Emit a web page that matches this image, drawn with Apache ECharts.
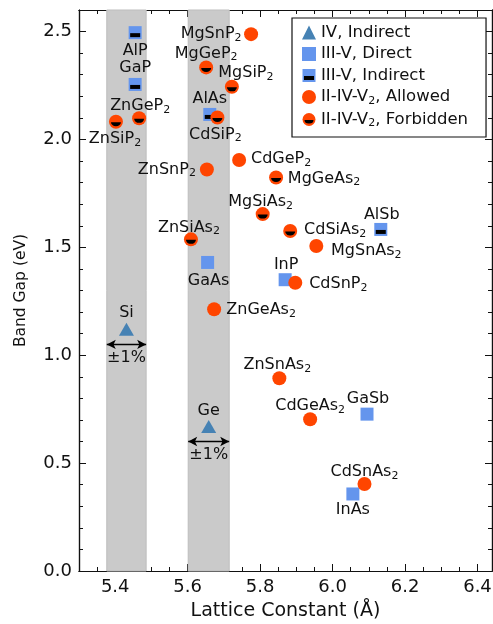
<!DOCTYPE html>
<html><head><meta charset="utf-8">
<script src="https://cdn.jsdelivr.net/npm/echarts@6/dist/echarts.min.js"></script>
<style>html,body{margin:0;padding:0;background:#fff}#c{width:493px;height:624px}</style>
</head><body><div id="c"></div>
<script>
// ---- data ----
const ivNames = ['Si', 'Ge'];
const ivX = [5.431, 5.658];
const ivY = [1.12, 0.67];

const directNames = ['GaAs', 'InP', 'GaSb', 'InAs'];
const directX = [5.655, 5.869, 6.095, 6.056];
const directY = [1.43, 1.35, 0.727, 0.357];

const indirectNames = ['AlP', 'GaP', 'AlAs', 'AlSb'];
const indirectX = [5.455, 5.455, 5.661, 6.133];
const indirectY = [2.495, 2.255, 2.116, 1.583];

const allowedNames = ['MgSnP2', 'ZnSnP2', 'CdGeP2', 'MgSnAs2', 'CdSnP2', 'ZnGeAs2', 'ZnSnAs2', 'CdGeAs2', 'CdSnAs2'];
const allowedX = [5.775, 5.653, 5.742, 5.955, 5.897, 5.673, 5.853, 5.938, 6.088];
const allowedY = [2.488, 1.861, 1.905, 1.506, 1.336, 1.213, 0.893, 0.703, 0.403];

const forbiddenNames = ['MgGeP2', 'MgSiP2', 'ZnGeP2', 'ZnSiP2', 'CdSiP2', 'MgGeAs2', 'MgSiAs2', 'CdSiAs2', 'ZnSiAs2'];
const forbiddenX = [5.651, 5.722, 5.466, 5.402, 5.682, 5.844, 5.807, 5.883, 5.609];
const forbiddenY = [2.334, 2.244, 2.098, 2.082, 2.102, 1.824, 1.654, 1.576, 1.537];

const seriesNames = ['IV, Indirect', 'III-V, Direct', 'III-V, Indirect', 'II-IV-V2, Allowed', 'II-IV-V2, Forbidden'];

const xTicks = [5.4, 5.6, 5.8, 6.0, 6.2, 6.4];
const xMinorTicks = [5.35, 5.45, 5.5, 5.55, 5.65, 5.7, 5.75, 5.85, 5.9, 5.95, 6.05, 6.1, 6.15, 6.25, 6.3, 6.35];
const yTicks = [0, 0.5, 1.0, 1.5, 2.0, 2.5];
const yMinorTicks = [0.1, 0.2, 0.3, 0.4, 0.6, 0.7, 0.8, 0.9, 1.1, 1.2, 1.3, 1.4, 1.6, 1.7, 1.8, 1.9, 2.1, 2.2, 2.3, 2.4];

const bandFraction = 0.01;         // ±1% around Si and Ge lattice constants
const bandArrowY = [1.05, 0.60];
const bandLabel = '±1%';

// ---- label placement (style) ----
const labelOffset = {
  Si: [0, -16], Ge: [0, -16],
  GaAs: [1, 18], InP: [1, -15], GaSb: [1, -15], InAs: [0, 16],
  AlP: [0, 18], GaP: [0, -17], AlAs: [0, -16], AlSb: [1, -15],
  MgSnP2: [-40, 0], ZnSnP2: [-40, 0], CdGeP2: [42, -1], MgSnAs2: [50, 5], CdSnP2: [43, 1],
  ZnGeAs2: [47, 1], ZnSnAs2: [-2, -13], CdGeAs2: [0, -13], CdSnAs2: [0, -12],
  MgGeP2: [0, -14], MgSiP2: [14, -14], ZnGeP2: [1, -12], ZnSiP2: [-1, 17], CdSiP2: [-2, 17],
  MgGeAs2: [48, 1], MgSiAs2: [-2, -12], CdSiAs2: [45, -1], ZnSiAs2: [-2, -12]
};

const FONT = 'DejaVu Sans';
const TXT = '#111';
const subFmt = s => s.replace(/2/g, '{s|2}');
const richSub = { s: { fontSize: 11, fontFamily: FONT, color: TXT, padding: [8, 0, 0, 0] } };

function items(names, xs, ys) {
  return names.map((n, i) => ({
    name: n, value: [xs[i], ys[i]],
    label: { offset: labelOffset[n] || [0, 0] }
  }));
}
function plain(names, xs, ys) {
  return names.map((n, i) => ({ name: n, value: [xs[i], ys[i]] }));
}
const labelCfg = {
  show: true, position: 'inside', align: 'center', verticalAlign: 'middle',
  fontSize: 16, fontFamily: FONT, color: TXT,
  formatter: p => subFmt(p.name), rich: richSub
};

const svgIcon = s => 'image://data:image/svg+xml;charset=utf-8,' + encodeURIComponent(s);
const indIcon = svgIcon('<svg xmlns="http://www.w3.org/2000/svg" width="14" height="14"><rect x="0.5" y="0.5" width="13" height="13" fill="#6495ED"/><rect x="2" y="7.5" width="10" height="4" fill="#000"/></svg>');
const forbIcon = svgIcon('<svg xmlns="http://www.w3.org/2000/svg" width="14" height="14"><circle cx="7" cy="7" r="6.5" fill="#FF4500"/><path d="M2.5,7.5 A4.5,3.5 0 0 0 11.5,7.5 Z" fill="#000"/></svg>');

const XMIN = 5.3, XMAX = 6.44, YMIN = 0, YMAX = 2.6;
const axLine = { show: true, onZero: false, lineStyle: { color: TXT, width: 1.2 } };

function xAxisDef(pos, ticks, len, labels) {
  const a = {
    type: 'value', min: XMIN, max: XMAX, position: pos,
    axisLine: axLine, splitLine: { show: false },
    axisTick: { show: true, inside: true, length: len, customValues: ticks, lineStyle: { color: TXT, width: 1 } },
    axisLabel: { show: !!labels }
  };
  if (labels) {
    a.axisLabel = { show: true, customValues: ticks, formatter: v => v.toFixed(1), margin: 7, fontSize: 18, fontFamily: FONT, color: TXT };
    a.name = 'Lattice Constant (Å)';
    a.nameLocation = 'middle'; a.nameGap = 31;
    a.nameTextStyle = { fontSize: 19, fontFamily: FONT, color: TXT };
  }
  return a;
}
function yAxisDef(pos, ticks, len, labels) {
  const a = {
    type: 'value', min: YMIN, max: YMAX, position: pos,
    axisLine: axLine, splitLine: { show: false },
    axisTick: { show: true, inside: true, length: len, customValues: ticks, lineStyle: { color: TXT, width: 1 } },
    axisLabel: { show: !!labels }
  };
  if (labels) {
    a.axisLabel = { show: true, customValues: ticks, formatter: v => v.toFixed(1), margin: 7, fontSize: 18, fontFamily: FONT, color: TXT };
    a.name = 'Band Gap (eV)';
    a.nameLocation = 'middle'; a.nameGap = 50;
    a.nameTextStyle = { fontSize: 15.5, fontFamily: FONT, color: TXT };
  }
  return a;
}

const chart = echarts.init(document.getElementById('c'), null, { renderer: 'canvas' });
chart.setOption({
  animation: false,
  backgroundColor: '#fff',
  grid: { left: 79, right: 1, top: 10, bottom: 53, containLabel: false, outerBoundsMode: 'none' },
  xAxis: [
    xAxisDef('bottom', xTicks, 7, true),
    xAxisDef('bottom', xMinorTicks, 4, false),
    xAxisDef('top', xTicks, 7, false),
    xAxisDef('top', xMinorTicks, 4, false)
  ],
  yAxis: [
    yAxisDef('left', yTicks, 7, true),
    yAxisDef('left', yMinorTicks, 4, false),
    yAxisDef('right', yTicks, 7, false),
    yAxisDef('right', yMinorTicks, 4, false)
  ],
  legend: {
    orient: 'vertical', left: 292, top: 18,
    itemWidth: 14, itemHeight: 14, itemGap: 4.5, itemTextGap: 11,
    padding: [6, 18, 8, 10],
    borderColor: TXT, borderWidth: 1.2, borderRadius: 0, backgroundColor: '#fff',
    textStyle: { fontSize: 16.5, fontFamily: FONT, color: TXT, rich: richSub },
    formatter: n => subFmt(n),
    data: [
      { name: seriesNames[0], icon: 'triangle' },
      { name: seriesNames[1], icon: 'rect' },
      { name: seriesNames[2], icon: indIcon },
      { name: seriesNames[3], icon: 'circle' },
      { name: seriesNames[4], icon: forbIcon }
    ]
  },
  series: [
    {
      name: 'bands', type: 'scatter', data: [], z: 1, silent: true,
      markArea: {
        silent: true, itemStyle: { color: '#cacaca', borderColor: '#bdbdbd', borderWidth: 1 },
        data: ivX.map(a => [{ xAxis: a * (1 - bandFraction) }, { xAxis: a * (1 + bandFraction) }])
      },
      markLine: {
        silent: true, symbol: ['arrow', 'arrow'], symbolSize: [7, 9],
        lineStyle: { color: '#000', width: 1.3, type: 'solid' },
        label: { show: true, formatter: bandLabel, position: 'insideMiddleBottom', distance: 5, fontSize: 16, fontFamily: FONT, color: TXT },
        data: ivX.map((a, i) => [{ coord: [a * (1 - bandFraction), bandArrowY[i]] }, { coord: [a * (1 + bandFraction), bandArrowY[i]] }])
      }
    },
    {
      name: seriesNames[0], type: 'scatter', symbol: 'triangle', symbolSize: [15, 13], z: 3,
      itemStyle: { color: '#4682B4', opacity: 1 }, label: labelCfg,
      data: items(ivNames, ivX, ivY)
    },
    {
      name: seriesNames[1], type: 'scatter', symbol: 'rect', symbolSize: 13, z: 3,
      itemStyle: { color: '#6495ED', opacity: 1 }, label: labelCfg,
      data: items(directNames, directX, directY)
    },
    {
      name: seriesNames[2], type: 'scatter', symbol: 'rect', symbolSize: 13, z: 3,
      itemStyle: { color: '#6495ED', opacity: 1 }, label: labelCfg,
      data: items(indirectNames, indirectX, indirectY)
    },
    {
      name: 'indirectMark', type: 'scatter', symbol: 'rect', symbolSize: [10, 4], symbolOffset: [0, 2.5], z: 3, silent: true,
      itemStyle: { color: '#000', opacity: 1 },
      data: plain(indirectNames, indirectX, indirectY)
    },
    {
      name: seriesNames[3], type: 'scatter', symbol: 'circle', symbolSize: 14, z: 4,
      itemStyle: { color: '#FF4500', opacity: 1 }, label: labelCfg,
      data: items(allowedNames, allowedX, allowedY)
    },
    {
      name: seriesNames[4], type: 'scatter', symbol: 'circle', symbolSize: 14, z: 4,
      itemStyle: { color: '#FF4500', opacity: 1 }, label: labelCfg,
      data: items(forbiddenNames, forbiddenX, forbiddenY)
    },
    {
      name: 'forbiddenMark', type: 'scatter', symbol: 'path://M0,0 A10,10 0 0 0 20,0 Z', symbolSize: [10, 4], symbolOffset: [0, 2.5], z: 4, silent: true,
      itemStyle: { color: '#000', opacity: 1 },
      data: plain(forbiddenNames, forbiddenX, forbiddenY)
    }
  ]
});
</script>
</body></html>
